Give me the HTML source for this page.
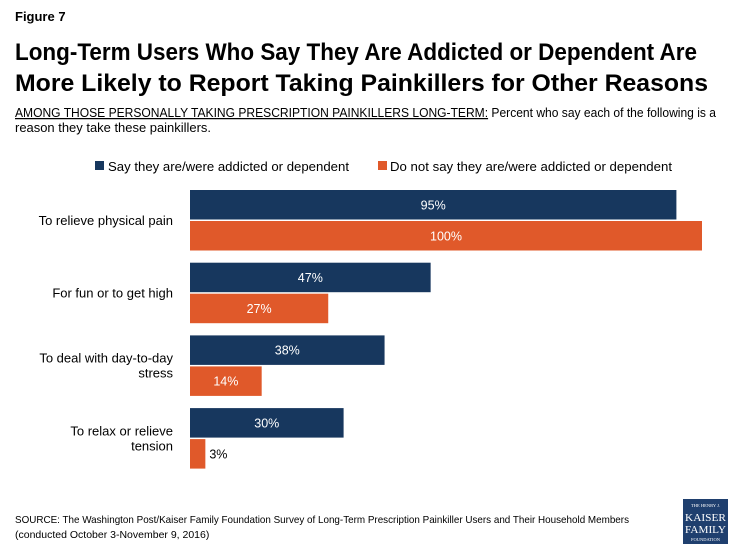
<!DOCTYPE html>
<html><head><meta charset="utf-8"><style>
html,body{margin:0;padding:0;background:#fff;}
svg{display:block;font-family:"Liberation Sans",sans-serif;}
</style></head><body>
<svg id="chart" width="735" height="551" viewBox="0 0 735 551">
<text x="15" y="21" font-size="13" font-weight="bold" fill="#000">Figure 7</text>
<text x="15" y="60" font-size="24" font-weight="bold" fill="#000" textLength="682" lengthAdjust="spacingAndGlyphs">Long-Term Users Who Say They Are Addicted or Dependent Are</text>
<text x="15" y="91" font-size="24" font-weight="bold" fill="#000" textLength="693" lengthAdjust="spacingAndGlyphs">More Likely to Report Taking Painkillers for Other Reasons</text>
<text x="15" y="117" font-size="12.5" fill="#000" textLength="701" lengthAdjust="spacingAndGlyphs"><tspan text-decoration="underline">AMONG THOSE PERSONALLY TAKING PRESCRIPTION PAINKILLERS LONG-TERM:</tspan> Percent who say each of the following is a</text>
<text x="15" y="132" font-size="12.5" fill="#000" textLength="196" lengthAdjust="spacingAndGlyphs">reason they take these painkillers.</text>
<g>
<rect x="95" y="161" width="9" height="9" fill="#17375e"/>
<text x="108" y="171" font-size="12.5" fill="#000" textLength="241" lengthAdjust="spacingAndGlyphs">Say they are/were addicted or dependent</text>
<rect x="378" y="161" width="9" height="9" fill="#e0592a"/>
<text x="390" y="171" font-size="12.5" fill="#000" textLength="282" lengthAdjust="spacingAndGlyphs">Do not say they are/were addicted or dependent</text>
</g>
<g id="bars"></g>
<text x="15" y="523" font-size="10.5" fill="#000" textLength="614" lengthAdjust="spacingAndGlyphs">SOURCE: The Washington Post/Kaiser Family Foundation Survey of Long-Term Prescription Painkiller Users and Their Household Members</text>
<text x="15" y="538" font-size="10.5" fill="#000">(conducted October 3-November 9, 2016)</text>
<g>
<rect x="683" y="499" width="45" height="45" fill="#1f3f6e"/>
<text x="705.5" y="507" font-size="4.5" fill="#fff" text-anchor="middle" font-family="Liberation Serif,serif">THE HENRY J.</text>
<text x="705.5" y="521" font-size="11" fill="#fff" text-anchor="middle" font-family="Liberation Serif,serif" textLength="41" lengthAdjust="spacingAndGlyphs">KAISER</text>
<text x="705.5" y="533" font-size="11" fill="#fff" text-anchor="middle" font-family="Liberation Serif,serif" textLength="41" lengthAdjust="spacingAndGlyphs">FAMILY</text>
<text x="705.5" y="541" font-size="4.5" fill="#fff" text-anchor="middle" font-family="Liberation Serif,serif">FOUNDATION</text>
</g>
</svg>
<script>
const categories = [["To relieve physical pain"],["For fun or to get high"],["To deal with day-to-day","stress"],["To relax or relieve","tension"]];
const addicted = [95, 47, 38, 30];
const notAddicted = [100, 27, 14, 3];
const NS = "http://www.w3.org/2000/svg";
const g = document.getElementById('bars');
const x0 = 190, pxPer = 5.12;
const xScale = v => x0 + v * pxPer;
const groupTop = i => 190 + i * 72.7;
const barH = 29.5;
function mk(tag, attrs){const e=document.createElementNS(NS,tag);for(const k in attrs)e.setAttribute(k,attrs[k]);return e;}
categories.forEach((cat,i)=>{
  const top = groupTop(i);
  [[addicted[i],'#17375e',0,'addicted'],[notAddicted[i],'#e0592a',barH+1.5,'not-addicted']].forEach(([v,c,off,nm])=>{
    const r = mk('rect',{x:x0,y:top+off,width:xScale(v)-x0,height:barH,fill:c});
    
    
    g.appendChild(r);
    const w = xScale(v)-x0;
    const inside = w > 30;
    const t = mk('text',{x: inside ? x0+w/2 : xScale(v)+4, y: top+off+barH/2+4.5, 'font-size':12.5, fill: inside?'#fff':'#000', 'text-anchor': inside?'middle':'start'});
    t.textContent = v + '%';
    
    
    g.appendChild(t);
  });
  const mid = top + barH + 0.75;
  const lines = cat;
  lines.forEach((ln,j)=>{
    const t = mk('text',{x:173, y: mid + 4.5 + (j - (lines.length-1)/2)*15, 'font-size':13, fill:'#000','text-anchor':'end'});
    t.textContent = ln;
    
    
    g.appendChild(t);
  });
});
</script>
</body></html>
